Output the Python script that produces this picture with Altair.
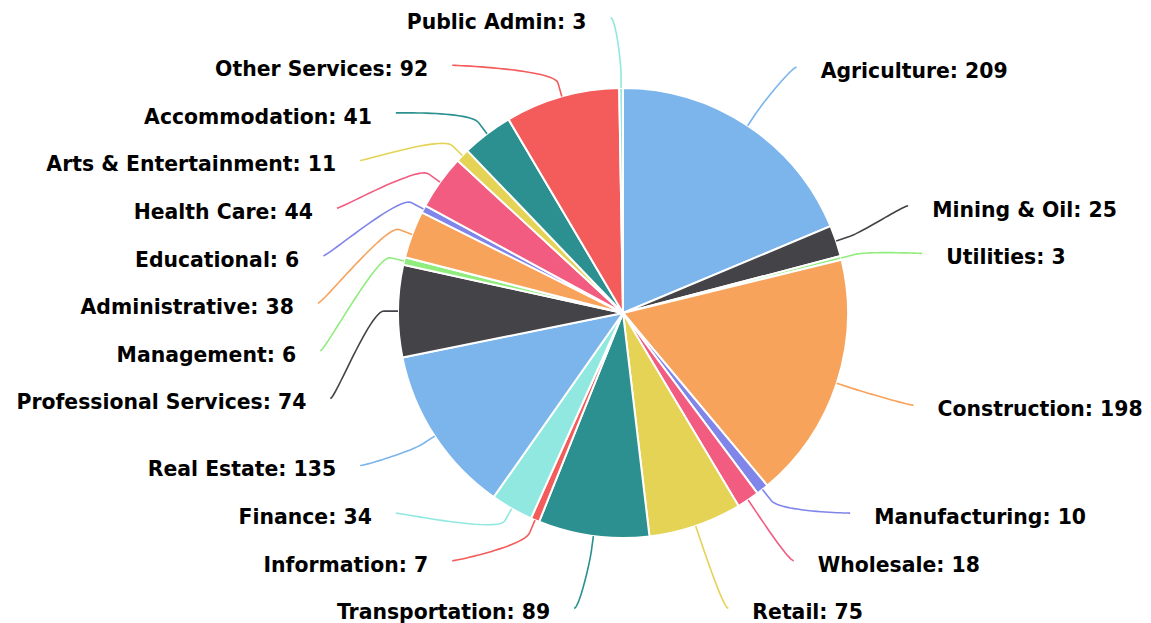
import math
import altair as alt
import pandas as pd

# ---------------- data ----------------
categories = ["Agriculture", "Mining & Oil", "Utilities", "Construction", "Manufacturing",
              "Wholesale", "Retail", "Transportation", "Information", "Finance",
              "Real Estate", "Professional Services", "Management", "Administrative",
              "Educational", "Health Care", "Arts & Entertainment", "Accommodation",
              "Other Services", "Public Admin"]
values = [209, 25, 3, 198, 10, 18, 75, 89, 7, 34, 135, 74, 6, 38, 6, 44, 11, 41, 92, 3]
palette = ["#7cb5ec", "#434348", "#90ed7d", "#f7a35c", "#8085e9",
           "#f15c80", "#e4d354", "#2b908f", "#f45b5b", "#91e8e1"]
colors = [palette[i % len(palette)] for i in range(len(categories))]

# ---------------- layout (pixels) ----------------
W, H = 1135, 615          # view size
CX, CY = 615, 305         # pie centre inside the view
R = 225                   # pie radius
L = 295.3                 # radius of the label circle
GAP = 47.6                # vertical slot per label
LABEL_PAD = 34
CONN_PAD = 10
BREAK = 14
TEXT_DY = 4.8

total = sum(values)
mids = []
cum = 0
for v in values:
    mids.append((cum + v / 2) / total * 2 * math.pi)
    cum += v


def distribute(items):
    """Highcharts-like label distribution. items: list of (key, target) sorted by target."""
    boxes = [{"keys": [k], "targets": [t], "size": GAP} for k, t in items]
    lo, hi = -L - GAP / 2, L + GAP / 2
    while True:
        for b in boxes:
            tgt = (min(b["targets"]) + max(b["targets"])) / 2
            b["pos"] = min(max(tgt - b["size"] / 2, lo), hi - b["size"])
        overlap = False
        i = len(boxes) - 1
        while i > 0:
            if boxes[i - 1]["pos"] + boxes[i - 1]["size"] > boxes[i]["pos"] + 1e-6:
                boxes[i - 1]["size"] += boxes[i]["size"]
                boxes[i - 1]["keys"] += boxes[i]["keys"]
                boxes[i - 1]["targets"] += boxes[i]["targets"]
                if boxes[i - 1]["pos"] + boxes[i - 1]["size"] > hi:
                    boxes[i - 1]["pos"] = hi - boxes[i - 1]["size"]
                del boxes[i]
                overlap = True
            i -= 1
        if not overlap:
            break
    out = {}
    for b in boxes:
        for j, k in enumerate(b["keys"]):
            out[k] = b["pos"] + GAP * (j + 0.5)
    return out


nat = {}
for i, m in enumerate(mids):
    nat[i] = (math.sin(m) * L, -math.cos(m) * L)

right = sorted([(i, nat[i][1]) for i, m in enumerate(mids) if m < math.pi], key=lambda t: t[1])
left = sorted([(i, nat[i][1]) for i, m in enumerate(mids) if m >= math.pi], key=lambda t: t[1])
ypos = {}
ypos.update(distribute(right))
ypos.update(distribute(left))

label_rows = []
line_rows = []
for i, (c, v, m) in enumerate(zip(categories, values, mids)):
    sgn = 1 if m < math.pi else -1
    yc = ypos[i]
    ygx = nat[i][1] if abs(abs(yc) - L) < 0.5 else yc
    gx = math.sqrt(max(L * L - ygx * ygx, 0))
    label_rows.append({"category": c, "label": f"{c}: {v}", "side": sgn,
                       "x": sgn * (gx + LABEL_PAD), "y": -(yc + TEXT_DY)})
    # connector: cubic bezier from label end to break point, then straight to slice
    dx, dy = math.sin(m), -math.cos(m)
    p0 = (sgn * (gx + CONN_PAD), yc)
    p1 = (p0[0] - sgn * 5, yc)
    p2 = ((R + 2 * BREAK) * dx, (R + 2 * BREAK) * dy)
    p3 = ((R + BREAK) * dx, (R + BREAK) * dy)
    pts = []
    n = 24
    for k in range(n + 1):
        t = k / n
        a = (1 - t) ** 3
        b = 3 * (1 - t) ** 2 * t
        cc = 3 * (1 - t) * t ** 2
        d = t ** 3
        pts.append((a * p0[0] + b * p1[0] + cc * p2[0] + d * p3[0],
                    a * p0[1] + b * p1[1] + cc * p2[1] + d * p3[1]))
    pts.append((R * dx, R * dy))
    for s, (px, py) in enumerate(pts):
        line_rows.append({"category": c, "seq": s, "x": px, "y": -py})

slices = pd.DataFrame({"category": categories, "value": values, "idx": list(range(len(categories)))})
labels = pd.DataFrame(label_rows)
lines = pd.DataFrame(line_rows)

xs = alt.Scale(domain=[-CX, W - CX], nice=False, zero=False)
ys = alt.Scale(domain=[-(H - CY), CY], nice=False, zero=False)
color_scale = alt.Scale(domain=categories, range=colors)

pie = alt.Chart(slices).mark_arc(outerRadius=R, stroke="white", strokeWidth=2).encode(
    theta=alt.Theta("value:Q", stack=True),
    order=alt.Order("idx:Q", sort="ascending"),
    color=alt.Color("category:N", scale=color_scale, legend=None),
    x=alt.XDatum(0, type="quantitative", scale=xs, axis=None),
    y=alt.YDatum(0, type="quantitative", scale=ys, axis=None),
)

conn = alt.Chart(lines).mark_line(strokeWidth=1.6).encode(
    x=alt.X("x:Q", scale=xs, axis=None),
    y=alt.Y("y:Q", scale=ys, axis=None),
    color=alt.Color("category:N", scale=color_scale, legend=None),
    detail="category:N",
    order=alt.Order("seq:Q"),
)

text_style = dict(baseline="middle", font="DejaVu Sans", fontSize=20.4, fontWeight="bold", color="#000000")
text_r = alt.Chart(labels).transform_filter("datum.side > 0").mark_text(align="left", **text_style).encode(
    x=alt.X("x:Q", scale=xs, axis=None),
    y=alt.Y("y:Q", scale=ys, axis=None),
    text="label:N",
)
text_l = alt.Chart(labels).transform_filter("datum.side < 0").mark_text(align="right", **text_style).encode(
    x=alt.X("x:Q", scale=xs, axis=None),
    y=alt.Y("y:Q", scale=ys, axis=None),
    text="label:N",
)

chart = alt.layer(pie, conn, text_r, text_l).properties(
    width=W, height=H, autosize=alt.AutoSizeParams(type="none"), padding=0
).configure_view(stroke=None)

chart.save("out.html", embed_options={"renderer": "svg", "actions": False})
